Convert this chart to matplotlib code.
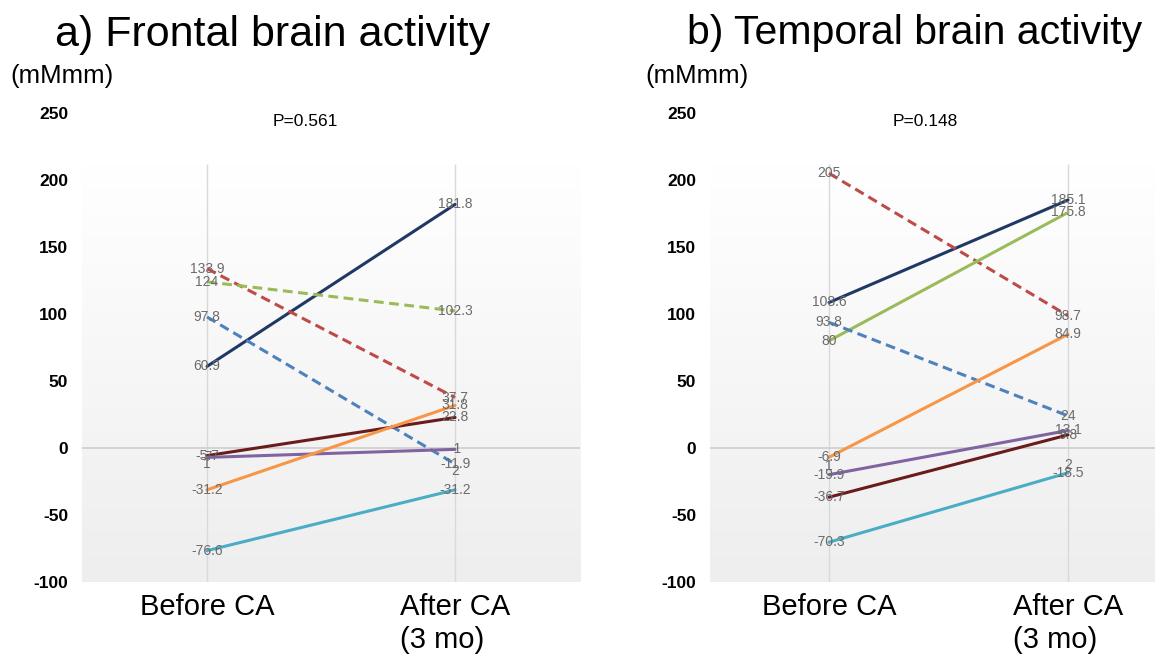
import numpy as np
import matplotlib
matplotlib.use('Agg')
import matplotlib.pyplot as plt
from matplotlib.colors import LinearSegmentedColormap

plt.rcParams['font.family'] = ['Liberation Sans', 'DejaVu Sans']

categories = ['Before CA', 'After CA\n(3 mo)']
yticks = [-100, -50, 0, 50, 100, 150, 200, 250]

# series order: navy, red, green, blue, maroon, purple, orange, cyan
frontal_before = [60.9, 133.9, 124, 97.8, -5.7, -7, -31.2, -76.6]
frontal_after = [181.8, 37.7, 102.3, -11.9, 22.8, -1, 31.8, -31.2]
temporal_before = [108.6, 205, 80, 93.8, -36.7, -19.9, -6.9, -70.3]
temporal_after = [185.1, 98.7, 175.8, 24, 9.8, 13.1, 84.9, -18.5]

colors = ['#1f3864', '#be4b48', '#9bbb59', '#4f81bd', '#6a1b1b', '#8064a2', '#f79646', '#4bacc6']
frontal_dashed = [False, True, True, True, False, False, False, False]
temporal_dashed = [False, True, False, True, False, False, False, False]

# stray labels seen in the original (text, category index, value)
frontal_extra = [('1', 0, -12), ('2', 1, -17)]
temporal_extra = [('1', 0, -13.5), ('2', 1, -13)]

fig = plt.figure(figsize=(11.55, 6.61), dpi=100)

bg = LinearSegmentedColormap.from_list('bg', ['#eeeeee', '#ffffff'])


def panel(rect, xlim, before, after, dashed, extra):
    ax = fig.add_axes(rect)
    ax.imshow(np.linspace(0, 1, 200).reshape(-1, 1), cmap=bg, origin='lower',
              extent=[xlim[0], xlim[1], -100, 212], aspect='auto', zorder=0)
    ax.vlines([0, 1], -100, 212, color='#d9d9d9', lw=1, zorder=1)
    ax.hlines(0, xlim[0], xlim[1], color='#d0d0d0', lw=1.3, zorder=1)
    for i in range(len(before)):
        kw = dict(color=colors[i], lw=2.2, zorder=3, solid_capstyle='round')
        if dashed[i]:
            ax.plot([0, 1], [before[i], after[i]], dashes=(3.2, 1.8), **kw)
        else:
            ax.plot([0, 1], [before[i], after[i]], **kw)
        ax.text(0, before[i], f'{before[i]:g}', ha='center', va='center',
                fontsize=10, color='#6b6b6b', zorder=5)
        ax.text(1, after[i], f'{after[i]:g}', ha='center', va='center',
                fontsize=10, color='#6b6b6b', zorder=5)
    for txt, xi, v in extra:
        ax.text(xi, v, txt, ha='center', va='center', fontsize=10, color='#6b6b6b', zorder=5)
    ax.set_xlim(xlim)
    ax.set_ylim(-100, 250)
    ax.set_yticks(yticks)
    ax.set_yticklabels([str(t) for t in yticks], fontsize=12.5, fontweight='bold')
    ax.set_xticks([0, 1])
    ax.set_xticklabels(categories, fontsize=21)
    for lab in ax.get_xticklabels():
        lab.set_multialignment('left')
    ax.tick_params(axis='both', length=0)
    ax.tick_params(axis='y', pad=10)
    ax.tick_params(axis='x', pad=8)
    for s in ax.spines.values():
        s.set_visible(False)
    ax.set_facecolor('none')
    return ax


panel([0.071, 0.1195, 0.4312, 0.7095], (-0.504, 1.504),
      frontal_before, frontal_after, frontal_dashed, frontal_extra)
panel([0.6147, 0.1195, 0.3853, 0.7095], (-0.498, 1.364),
      temporal_before, temporal_after, temporal_dashed, temporal_extra)

fig.text(273 / 1155, 1 - 35 / 661, 'a) Frontal brain activity', fontsize=31, ha='center', va='center')
fig.text(915 / 1155, 1 - 33 / 661, 'b) Temporal brain activity', fontsize=29.5, ha='center', va='center')
fig.text(10 / 1155, 1 - 76 / 661, '(mMmm)', fontsize=18.5, ha='left', va='center')
fig.text(645 / 1155, 1 - 76 / 661, '(mMmm)', fontsize=18.5, ha='left', va='center')
fig.text(305 / 1155, 1 - 122 / 661, 'P=0.561', fontsize=12.5, ha='center', va='center')
fig.text(925 / 1155, 1 - 122 / 661, 'P=0.148', fontsize=12.5, ha='center', va='center')

fig.savefig('out.png', dpi=100)
